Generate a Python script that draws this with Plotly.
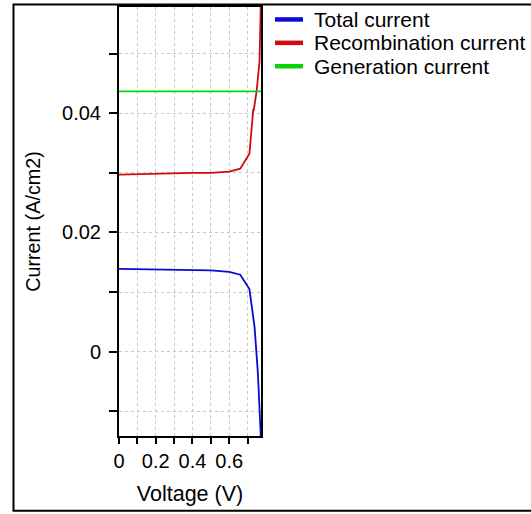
import plotly.graph_objects as go

# Bias voltage (V) for each current curve
v_total = [0.0, 0.1, 0.2, 0.3, 0.4, 0.5, 0.6, 0.66, 0.71, 0.738, 0.756, 0.767, 0.773]
j_total = [0.0139, 0.01385, 0.0138, 0.01375, 0.0137, 0.01365, 0.0134, 0.0129,
           0.0105, 0.0041, -0.0036, -0.0136, -0.0150]

v_recomb = [0.0, 0.1, 0.2, 0.3, 0.4, 0.5, 0.6, 0.66, 0.71, 0.731, 0.733, 0.749, 0.765, 0.772]
j_recomb = [0.0297, 0.0298, 0.0298, 0.0299, 0.0300, 0.0300, 0.0302, 0.0307,
            0.0332, 0.0407, 0.0404, 0.0437, 0.0487, 0.0585]

v_gen = [0.0, 0.773]
j_gen = [0.0437, 0.0437]

series_names = ["Total current", "Recombination current", "Generation current"]
series_colors = ["#0a0ad2", "#d20a0a", "#0ad20a"]

y_tick_vals = [-0.01, 0.0, 0.01, 0.02, 0.03, 0.04, 0.05]
y_tick_text = ["", "0", "", "0.02", "", "0.04", ""]
x_tick_vals = [0.0, 0.1, 0.2, 0.3, 0.4, 0.5, 0.6, 0.7]
x_tick_text = ["0", "", "0.2", "", "0.4", "", "0.6", ""]

FONT = "Liberation Sans, Arial, Helvetica, sans-serif"
W, H = 531, 514
ML, MR, MT, MB = 119, 270, 5, 78
PW, PH = W - ML - MR, H - MT - MB


def px_to_paper_x(px):
    return (px - ML) / PW


def px_to_paper_y(py):
    return (H - MB - py) / PH


fig = go.Figure()
curves = [(v_total, j_total), (v_recomb, j_recomb), (v_gen, j_gen)]
for (vx, jy), name, color in zip(curves, series_names, series_colors):
    fig.add_trace(go.Scatter(x=vx, y=jy, mode="lines", name=name,
                             line=dict(color=color, width=1.8), showlegend=False))

grid = dict(showgrid=True, gridcolor="#c8c8c8", griddash="dot", gridwidth=1)

fig.update_xaxes(range=[0, 0.773], tickvals=x_tick_vals, ticktext=x_tick_text,
                 ticks="outside", ticklen=6, tickwidth=1.5, tickcolor="black",
                 showline=True, linecolor="black", linewidth=2, mirror=True,
                 zeroline=False,
                 title=dict(text="Voltage (V)", standoff=15, font=dict(size=21.5)),
                 tickfont=dict(size=20), **grid)
fig.update_yaxes(range=[-0.01417, 0.05785], tickvals=y_tick_vals, ticktext=y_tick_text,
                 ticks="outside", ticklen=8, tickwidth=1.5, tickcolor="black",
                 showline=True, linecolor="black", linewidth=2, mirror=True,
                 zeroline=False, ticklabelstandoff=4,
                 title=dict(text="Current (A/cm2)", standoff=16, font=dict(size=19.8)),
                 tickfont=dict(size=20), **grid)

# frame around the whole figure
fig.add_shape(type="rect", xref="paper", yref="paper",
              x0=px_to_paper_x(13.5), x1=px_to_paper_x(560),
              y0=px_to_paper_y(511), y1=px_to_paper_y(2.5),
              line=dict(color="black", width=2), layer="above")

# legend: colour swatch plus series name, one row per curve
legend_rows_y = [17.5, 41, 64.5]
for name, color, ry in zip(series_names, series_colors, legend_rows_y):
    fig.add_shape(type="line", xref="paper", yref="paper",
                  x0=px_to_paper_x(275), x1=px_to_paper_x(303),
                  y0=px_to_paper_y(ry), y1=px_to_paper_y(ry),
                  line=dict(color=color, width=4.5))
    fig.add_annotation(text=name, xref="paper", yref="paper",
                       x=px_to_paper_x(312), y=px_to_paper_y(ry),
                       xanchor="left", yanchor="middle", showarrow=False,
                       font=dict(size=21, family=FONT, color="black"))

fig.update_layout(
    width=W, height=H,
    margin=dict(l=ML, r=MR, t=MT, b=MB),
    paper_bgcolor="white", plot_bgcolor="white",
    font=dict(family=FONT, size=20, color="black"),
    showlegend=False,
)

fig.write_html("out.html")
